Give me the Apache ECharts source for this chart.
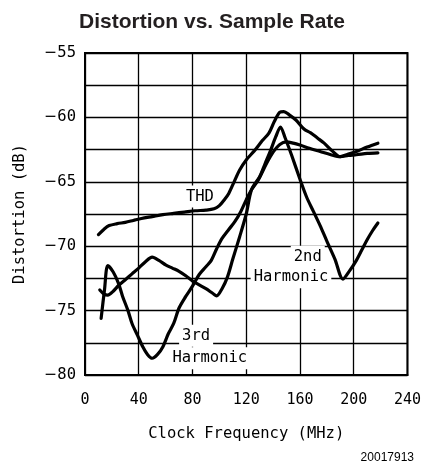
<!DOCTYPE html>
<html>
<head>
<meta charset="utf-8">
<script src="https://cdn.jsdelivr.net/npm/echarts@6/dist/echarts.min.js"></script>
<style>
html,body{margin:0;padding:0;background:#fff;}
#chart{width:424px;height:470px;}
</style>
</head>
<body>
<div id="chart"></div>
<script>
// ---- data (MHz, dB) ----
const thd = [
  [10,-69.1],[14,-68.7],[18,-68.4],[24,-68.25],[30,-68.15],[36,-68.0],[42,-67.85],[50,-67.7],
  [58,-67.55],[66,-67.45],[74,-67.35],[82,-67.25],[90,-67.2],[96,-67.1],[100,-66.85],
  [104,-66.35],[107,-65.9],[111,-65.0],[115,-64.1],[120,-63.3],[126,-62.6],[132,-61.8],
  [137,-61.2],[141,-60.3],[145,-59.6],[148,-59.55],[152,-59.8],[157,-60.2],[163,-60.9],
  [168,-61.2],[173,-61.6],[178,-62.0],[184,-62.6],[190,-63.05],[196,-62.85],[202,-62.65],
  [210,-62.3],[218,-62.0]
];
const harm2 = [
  [11,-73.4],[14,-73.7],[17,-73.8],[21,-73.5],[25,-73.05],[30,-72.6],[35,-72.15],[40,-71.7],
  [45,-71.2],[50,-70.85],[55,-71.1],[60,-71.45],[65,-71.7],[70,-71.95],[75,-72.3],[80,-72.7],
  [85,-73.0],[90,-73.3],[95,-73.65],[98,-73.85],[102,-73.3],[106,-72.4],[110,-71.0],
  [115,-69.3],[120,-67.5],[124,-65.6],[130,-64.6],[134,-63.6],[138,-62.6],[142,-61.5],
  [145.5,-60.75],[149,-61.6],[154,-63.0],[160,-64.8],[165,-66.2],[170,-67.3],[175,-68.4],
  [180,-69.6],[186,-71.0],[192,-72.55],[197,-71.9],[202,-71.1],[206,-70.3],[210,-69.5],
  [214,-68.8],[218,-68.2]
];
const harm3 = [
  [12,-75.6],[14.5,-73.4],[17,-71.5],[21,-72.0],[25,-72.9],[28,-73.9],[32,-75.0],[35,-76.0],
  [39,-76.9],[43,-77.8],[46.5,-78.4],[50,-78.7],[54,-78.4],[58,-77.8],[62,-76.8],[66,-76.0],
  [70,-74.8],[75,-73.9],[80,-73.1],[85,-72.2],[90,-71.6],[94,-71.1],[98,-70.2],[102,-69.4],
  [107,-68.7],[111.5,-68.1],[116,-67.3],[120,-66.4],[124,-65.6],[129,-64.85],[135,-63.6],
  [140,-62.7],[145,-62.1],[150,-61.9],[155,-62.0],[160,-62.15],[167,-62.4],[175,-62.65],
  [183,-62.9],[190,-63.05],[196,-62.95],[202,-62.9],[210,-62.8],[218,-62.75]
];
const xTicks = [0, 40, 80, 120, 160, 200, 240];
const yTicks = [-80, -75, -70, -65, -60, -55];
// annotation labels: text and data-space anchor
const annoTexts = ['THD', '2nd', 'Harmonic', '3rd', 'Harmonic'];
const annoAnchors = [[85.5,-66.14],[165.8,-70.81],[153.3,-72.42],[82.7,-76.96],[92.9,-78.7]];

const mono = 'DejaVu Sans Mono';
const chart = echarts.init(document.getElementById('chart'), null, {renderer:'canvas'});
const lineStyle = {color:'#000', width:3.2, join:'round', cap:'round'};
const mk = (name, d) => ({
  name, type:'line', data:d, showSymbol:false, symbol:'none', smooth:0.3,
  lineStyle, z:3, animation:false
});

chart.setOption({
  animation:false,
  backgroundColor:'#fff',
  title:{
    text:'Distortion vs. Sample Rate',
    left:'center', top:7,
    textStyle:{fontFamily:'Liberation Sans', fontWeight:'bold', fontSize:21, color:'#231f20'}
  },
  grid:{left:85, right:16, top:53, bottom:95, show:true, borderColor:'#000', borderWidth:2},
  xAxis:{
    type:'value', min:xTicks[0], max:xTicks[xTicks.length-1], interval:40,
    name:'Clock Frequency (MHz)', nameLocation:'middle', nameGap:51,
    nameTextStyle:{fontFamily:mono, fontSize:15.5, color:'#000'},
    axisLine:{show:true, lineStyle:{color:'#000', width:2}},
    axisTick:{show:false},
    axisLabel:{fontFamily:mono, fontSize:15, color:'#000', margin:18},
    splitLine:{show:true, lineStyle:{color:'#000', width:1.3}}
  },
  yAxis:{
    type:'value', min:yTicks[0], max:yTicks[yTicks.length-1], interval:2.5,
    name:'Distortion (dB)', nameLocation:'middle', nameGap:57,
    nameTextStyle:{fontFamily:mono, fontSize:15.5, color:'#000'},
    axisLine:{show:true, lineStyle:{color:'#000', width:2}},
    axisTick:{show:false},
    axisLabel:{color:'#000', margin:9,
      formatter:v => (yTicks.indexOf(v) >= 0 ? '{m|\u2212}{n|' + Math.abs(v) + '}' : ''),
      rich:{
        m:{fontFamily:'DejaVu Sans', fontSize:15.5, color:'#000'},
        n:{fontFamily:mono, fontSize:15.5, color:'#000'}
      }},
    splitLine:{show:true, lineStyle:{color:'#000', width:1.3}}
  },
  series:[mk('THD', thd), mk('2nd Harmonic', harm2), mk('3rd Harmonic', harm3)]
});

const elems = annoTexts.map((t, i) => {
  const p = chart.convertToPixel({gridIndex:0}, annoAnchors[i]);
  return {
    type:'text', x:p[0], y:p[1], z:1,
    style:{text:t, fontFamily:mono, fontSize:15.5, fill:'#000',
      align:'center', verticalAlign:'middle', backgroundColor:'#fff', padding:[3,3]}
  };
});
elems.push({
  type:'text', right:10, bottom:6,
  style:{text:'20017913', fontFamily:'Liberation Sans', fontSize:12, fill:'#000'}
});
chart.setOption({graphic:elems});
</script>
</body>
</html>
